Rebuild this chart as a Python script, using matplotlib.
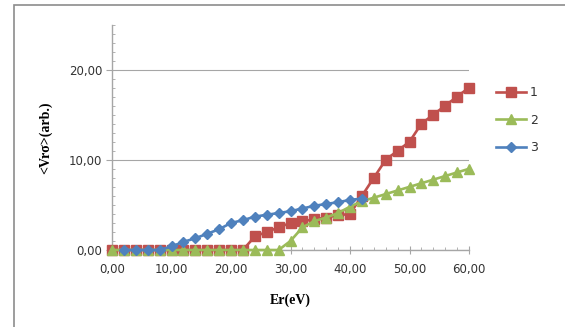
import matplotlib.pyplot as plt
from matplotlib.ticker import MultipleLocator, FuncFormatter
from matplotlib.patches import Rectangle

# energies every 2 eV
x_all = list(range(0, 62, 2))
x_blue = list(range(2, 44, 2))

s1 = [0, 0, 0, 0, 0, 0, 0, 0, 0, 0, 0, 0, 1.5, 2.0, 2.5, 3.0, 3.2, 3.4, 3.6, 3.85,
      4.0, 6.0, 8.0, 10.0, 11.0, 12.0, 14.0, 15.0, 16.0, 17.0, 18.0]
s2 = [0, 0, 0, 0, 0, 0, 0, 0, 0, 0, 0, 0, 0, 0, 0, 1.0, 2.5, 3.2, 3.6, 4.1,
      4.8, 5.4, 5.8, 6.2, 6.6, 7.0, 7.4, 7.8, 8.2, 8.6, 9.0]
s3 = [0, 0, 0, 0, 0.4, 0.9, 1.3, 1.8, 2.3, 3.0, 3.3, 3.7, 3.9, 4.1, 4.3, 4.6,
      4.9, 5.1, 5.3, 5.55, 5.7]

red = "#C0504D"
green = "#9BBB59"
blue = "#4F81BD"

fig = plt.figure(figsize=(5.65, 3.27), dpi=100)
ax = fig.add_axes([112/565, 1-250/327, (469-112)/565, (250-24.5)/327])

# outer frame (cut off at right and bottom)
fig.patches.append(Rectangle((14/565, -0.05), 1.0, 1-5/327+0.05, transform=fig.transFigure,
                             fill=False, edgecolor="#8c8c8c", linewidth=1.2))

ax.plot(x_all, s1, color=red, marker="s", markersize=7, linewidth=1.9, label="1", clip_on=False, zorder=3)
ax.plot(x_all, s2, color=green, marker="^", markersize=7.5, linewidth=1.9, label="2", clip_on=False, zorder=4)
ax.plot(x_blue, s3, color=blue, marker="D", markersize=5.5, linewidth=1.9, label="3", clip_on=False, zorder=5)

ax.set_xlim(0, 60)
ax.set_ylim(0, 25)
ax.xaxis.set_major_locator(MultipleLocator(10))
ax.xaxis.set_minor_locator(MultipleLocator(2))
ax.yaxis.set_major_locator(MultipleLocator(10))
ax.yaxis.set_minor_locator(MultipleLocator(1))
fmt = FuncFormatter(lambda v, p: ("%.2f" % v).replace(".", ","))
ax.xaxis.set_major_formatter(fmt)
ax.yaxis.set_major_formatter(fmt)

for sp in ["top", "right"]:
    ax.spines[sp].set_visible(False)
for sp in ["left", "bottom"]:
    ax.spines[sp].set_color("#a6a6a6")
    ax.spines[sp].set_linewidth(1.0)

ax.grid(axis="y", which="major", color="#a6a6a6", linewidth=0.8)
ax.set_axisbelow(True)

ax.tick_params(axis="x", which="major", direction="inout", length=6, color="#a6a6a6",
               labelsize=8.5, labelcolor="#333333", pad=6)
ax.tick_params(axis="x", which="minor", direction="in", length=2.5, color="#a6a6a6")
ax.tick_params(axis="y", which="major", direction="out", length=4, color="#a6a6a6",
               labelsize=8.5, labelcolor="#333333", pad=3)
ax.tick_params(axis="y", which="minor", direction="in", length=2.5, color="#a6a6a6")

ax.set_xlabel("Er(eV)", family="Liberation Serif", fontweight="bold", fontsize=10, labelpad=13)
ax.set_ylabel("<Vrσ>(arb.)", family="Liberation Serif", fontweight="bold", fontsize=10, labelpad=12)

leg = ax.legend(loc="upper left", bbox_to_anchor=(1.045, 0.775), frameon=False, fontsize=9,
                handlelength=2.4, labelspacing=1.15, handletextpad=0.3)
for t in leg.get_texts():
    t.set_color("#333333")

fig.savefig("out.png", dpi=100)
